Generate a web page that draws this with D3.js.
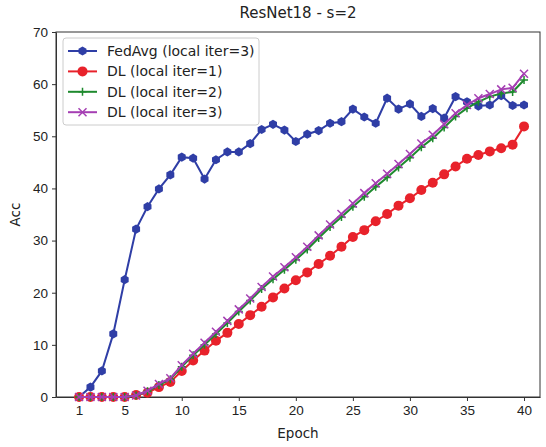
<!DOCTYPE html>
<html>
<head>
<meta charset="utf-8">
<script src="https://cdn.jsdelivr.net/npm/d3@7"></script>
<style>
  body { margin: 0; background: #fff; }
  svg { font-family: "DejaVu Sans", sans-serif; }
  .axis text { font-size: 13.5px; fill: #222; }
  .axis path, .axis line { stroke: #333; stroke-width: 1; }
</style>
</head>
<body>
<div id="chart"></div>
<script>
// epochs 1..40
var epochs = d3.range(1, 41);

var fedAvg = [0, 1.9, 5.0, 12.1, 22.5, 32.2, 36.5, 39.9, 42.6, 46.0,
              45.8, 41.8, 45.5, 47.0, 47.0, 48.6, 51.3, 52.3, 51.2, 49.0,
              50.4, 51.1, 52.5, 52.8, 55.2, 53.7, 52.5, 57.3, 55.2, 56.2,
              53.8, 55.3, 53.5, 57.6, 56.6, 55.8, 56.0, 57.8, 55.9, 56.0];

var dlIter1 = [0, 0, 0, 0, 0, 0.4, 0.8, 1.9, 2.9, 5.0,
               7.0, 8.9, 10.8, 12.3, 14.0, 15.7, 17.3, 19.1, 20.8, 22.4,
               23.9, 25.5, 27.1, 28.8, 30.7, 32.0, 33.7, 35.1, 36.7, 38.1,
               39.7, 41.1, 42.7, 44.2, 45.7, 46.4, 47.1, 47.7, 48.4, 51.9];

var dlIter2 = [0, 0, 0, 0, 0, 0.3, 1.1, 2.3, 3.4, 5.8,
               8.0, 10.0, 12.1, 14.2, 16.4, 18.5, 20.7, 22.6, 24.4, 26.3,
               28.3, 30.5, 32.6, 34.5, 36.5, 38.4, 40.3, 42.1, 44.0, 45.9,
               47.9, 49.6, 51.7, 53.8, 55.4, 56.6, 57.6, 58.2, 58.5, 60.8];

var dlIter3 = [0, 0, 0, 0, 0, 0.3, 1.2, 2.5, 3.6, 6.1,
               8.3, 10.4, 12.5, 14.6, 16.8, 18.9, 21.1, 23.1, 24.9, 26.8,
               28.8, 31.0, 33.1, 35.1, 37.1, 39.1, 41.0, 42.8, 44.7, 46.6,
               48.6, 50.3, 52.3, 54.4, 56.0, 57.3, 58.1, 59.0, 59.3, 62.0];

var xTicks = [1, 5, 10, 15, 20, 25, 30, 35, 40];
var yTicks = [0, 10, 20, 30, 40, 50, 60, 70];

var series = [
  { name: "FedAvg (local iter=3)", values: fedAvg, color: "#2f3ea6", marker: "hex" },
  { name: "DL (local iter=1)", values: dlIter1, color: "#e8222b", marker: "circle" },
  { name: "DL (local iter=2)", values: dlIter2, color: "#1e8a2e", marker: "plus" },
  { name: "DL (local iter=3)", values: dlIter3, color: "#a53fb3", marker: "cross" }
];

var width = 546, height = 447;
var margin = { top: 32, right: 6, bottom: 50, left: 56 };
var w = width - margin.left - margin.right;
var h = height - margin.top - margin.bottom;

var svg = d3.select('#chart').append('svg')
  .attr('width', width).attr('height', height);

var g = svg.append('g').attr('transform', 'translate(' + margin.left + ',' + margin.top + ')');

var x = d3.scaleLinear().domain([-1.02, 41.4]).range([0, w]);
var y = d3.scaleLinear().domain([0, 70]).range([h, 0]);

// axes
g.append('g').attr('class', 'axis')
  .attr('transform', 'translate(0,' + h + ')')
  .call(d3.axisBottom(x).tickValues(xTicks).tickSize(4).tickPadding(4).tickSizeOuter(0));

g.append('g').attr('class', 'axis')
  .call(d3.axisLeft(y).tickValues(yTicks).tickSize(4).tickPadding(4).tickSizeOuter(0));

// frame
g.append('rect').attr('width', w).attr('height', h)
  .attr('fill', 'none').attr('stroke', '#333').attr('stroke-width', 1);

var line = d3.line()
  .x(function(d, i) { return x(epochs[i]); })
  .y(function(d) { return y(d); });

function drawMarker(sel, type, color) {
  if (type == "circle") {
    sel.append('circle').attr('r', 5).attr('fill', color);
  } else if (type == "hex") {
    var pts = d3.range(6).map(function(k) {
      var a = Math.PI / 6 + k * Math.PI / 3;
      return [4.6 * Math.cos(a), 4.6 * Math.sin(a)];
    });
    sel.append('polygon').attr('points', pts.join(' ')).attr('fill', color);
  } else if (type == "plus") {
    sel.append('path').attr('d', 'M-4,0L4,0M0,-4L0,4')
      .attr('stroke', color).attr('stroke-width', 1.5);
  } else if (type == "cross") {
    sel.append('path').attr('d', 'M-4,-4L4,4M-4,4L4,-4')
      .attr('stroke', color).attr('stroke-width', 1.5);
  }
}

series.forEach(function(s) {
  var sg = g.append('g');
  sg.append('path').datum(s.values)
    .attr('d', line)
    .attr('fill', 'none')
    .attr('stroke', s.color)
    .attr('stroke-width', 2);
  sg.selectAll('.pt').data(s.values).enter().append('g')
    .attr('class', 'pt')
    .attr('transform', function(d, i) { return 'translate(' + x(epochs[i]) + ',' + y(d) + ')'; })
    .each(function() { drawMarker(d3.select(this), s.marker, s.color); });
});

// legend
var legend = g.append('g').attr('transform', 'translate(7,6)');
legend.append('rect')
  .attr('width', 196).attr('height', 87)
  .attr('rx', 3)
  .attr('fill', '#fff').attr('fill-opacity', 0.85)
  .attr('stroke', '#ccc');

series.forEach(function(s, i) {
  var row = legend.append('g').attr('transform', 'translate(0,' + (13 + i * 20.4) + ')');
  row.append('line').attr('x1', 5).attr('x2', 34)
    .attr('stroke', s.color).attr('stroke-width', 2);
  drawMarker(row.append('g').attr('transform', 'translate(19.5,0)'), s.marker, s.color);
  row.append('text').attr('x', 44).attr('y', 5)
    .style('font-size', '14px').attr('fill', '#222')
    .text(s.name);
});

// title and labels
svg.append('text').attr('x', margin.left + w / 2).attr('y', 18)
  .attr('text-anchor', 'middle').style('font-size', '15px').attr('fill', '#222')
  .text('ResNet18 - s=2');

svg.append('text').attr('x', margin.left + w / 2).attr('y', 438)
  .attr('text-anchor', 'middle').style('font-size', '13.5px').attr('fill', '#222')
  .text('Epoch');

svg.append('text')
  .attr('transform', 'translate(20,' + (margin.top + h / 2) + ') rotate(-90)')
  .attr('text-anchor', 'middle').style('font-size', '13.5px').attr('fill', '#222')
  .text('Acc');
</script>
</body>
</html>
